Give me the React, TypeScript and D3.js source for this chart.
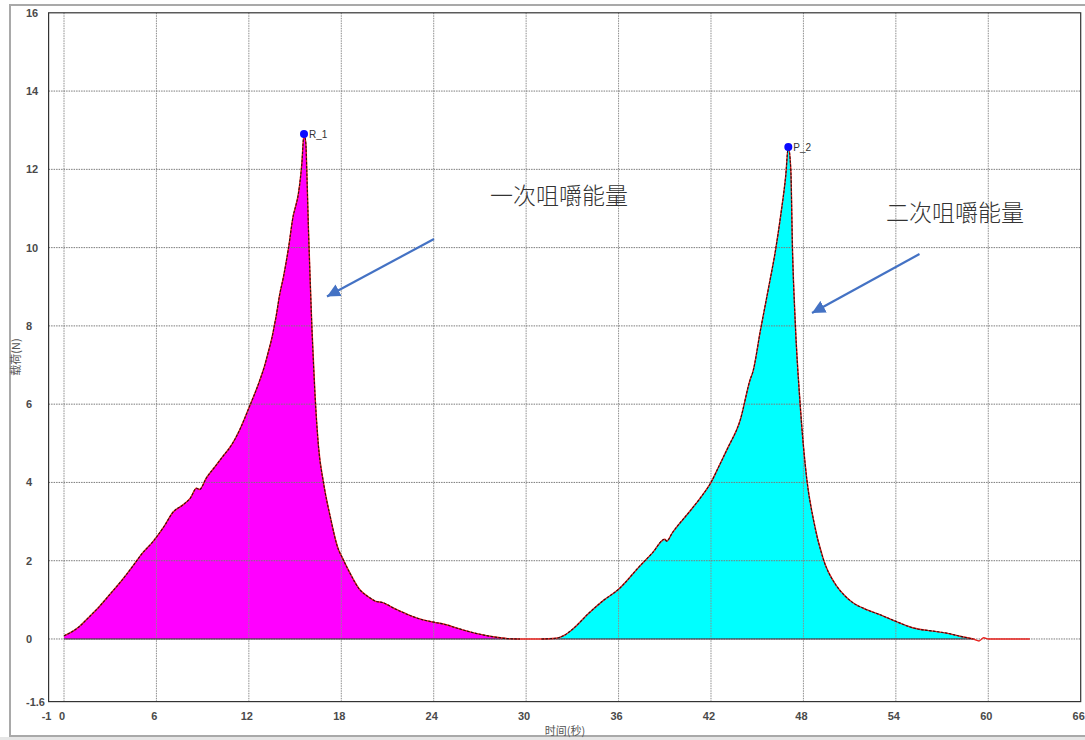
import React from "react";
import * as d3 from "d3";

// Chewing load test: load (N) over time (s), two bites
const bite1Time = [0, 0.5, 1.0, 1.6, 2.3, 3.0, 3.8, 4.5, 5.0, 5.8, 6.5, 7.1, 7.7, 8.2, 8.6, 8.8, 9.25, 9.8, 10.3, 10.9, 11.4, 12.0, 12.7, 13.0, 13.3, 13.5, 13.7, 13.75, 14.0, 14.25, 14.57, 14.9, 15.0, 15.22, 15.44, 15.58, 15.7, 15.76, 15.87, 15.98, 16.09, 16.3, 16.52, 16.85, 17.28, 17.82, 18.0, 18.54, 19.18, 19.82, 20.2, 20.68, 21.54, 22.6, 23.2, 24.0, 24.75, 25.82, 26.89, 27.96, 28.8, 29.6];
const bite1Load = [0.08, 0.18, 0.32, 0.55, 0.83, 1.15, 1.52, 1.88, 2.15, 2.5, 2.88, 3.25, 3.42, 3.6, 3.85, 3.82, 4.12, 4.4, 4.66, 4.97, 5.34, 5.9, 6.6, 6.95, 7.39, 7.7, 8.1, 8.2, 8.8, 9.26, 9.98, 10.85, 11.0, 11.39, 12.15, 12.9, 12.66, 11.98, 10.45, 9.17, 7.98, 6.2, 4.92, 3.98, 3.13, 2.28, 2.13, 1.7, 1.27, 1.06, 0.97, 0.93, 0.76, 0.58, 0.5, 0.43, 0.37, 0.24, 0.13, 0.05, 0.01, 0];

const bite2Time = [29.6, 31.0, 31.93, 32.5, 33.02, 34.1, 35.0, 36.0, 37.37, 38.2, 39.0, 39.12, 39.5, 40.64, 41.3, 42.0, 42.5, 43.05, 43.91, 44.56, 44.7, 45.22, 45.76, 46.2, 46.52, 46.85, 47.02, 47.18, 47.29, 47.46, 47.78, 48.22, 48.65, 49.3, 50.16, 50.7, 51.24, 52.1, 52.97, 54.0, 55.14, 56.43, 57.3, 58.16, 59.03, 59.4, 59.7, 60.0, 62.7];
const bite2Load = [0, 0, 0.02, 0.1, 0.25, 0.67, 0.98, 1.27, 1.86, 2.2, 2.55, 2.5, 2.72, 3.27, 3.6, 4.0, 4.4, 4.85, 5.61, 6.65, 6.8, 7.91, 9.02, 9.96, 10.81, 11.83, 12.57, 12.0, 9.96, 8.17, 6.04, 4.08, 3.05, 2.03, 1.35, 1.1, 0.92, 0.75, 0.62, 0.45, 0.28, 0.2, 0.15, 0.07, 0, -0.05, 0.03, 0, 0];

const peakNames = ["R_1", "P_2"];
const peakTimes = [15.58, 47.02];
const peakLoads = [12.9, 12.57];

const xTicks = [-1, 0, 6, 12, 18, 24, 30, 36, 42, 48, 54, 60, 66];
const yTicks = [-1.6, 0, 2, 4, 6, 8, 10, 12, 14, 16];
const xGrid = [0, 6, 12, 18, 24, 30, 36, 42, 48, 54, 60];
const yGrid = [0, 2, 4, 6, 8, 10, 12, 14];

const annotationTexts = ["一次咀嚼能量", "二次咀嚼能量"];

const W = 1085;
const H = 740;
const plotLeft = 48.6;
const plotRight = 1080.7;
const plotTop = 12.8;
const plotBottom = 701.6;

type Pt = { t: number; v: number };

function zip(ts: number[], vs: number[]): Pt[] {
  return ts.map((t, i) => ({ t, v: vs[i] }));
}

export default function App() {
  const x = d3.scaleLinear().domain([-1, 66]).range([plotLeft, plotRight]);
  const y = d3.scaleLinear().domain([-1.6, 16]).range([plotBottom, plotTop]);

  const s1 = zip(bite1Time, bite1Load);
  const s2 = zip(bite2Time, bite2Load);

  const area = d3
    .area<Pt>()
    .curve(d3.curveMonotoneX)
    .x((d) => x(d.t))
    .y0(y(0))
    .y1((d) => y(Math.max(0, d.v)));
  const line = d3
    .line<Pt>()
    .curve(d3.curveMonotoneX)
    .x((d) => x(d.t))
    .y((d) => y(d.v));

  // filled part of each bite: where load is above zero
  const fill1 = s1;
  const fill2 = s2.filter((d) => d.t >= 31.0 && d.t <= 59.03);

  const series = [
    { data: s1, fill: fill1, color: "#ff00ff" },
    { data: s2, fill: fill2, color: "#00ffff" },
  ];

  const tickFont = "'Liberation Sans', Arial, sans-serif";
  const cjkFont = "'Noto Sans CJK SC', 'Noto Sans', sans-serif";

  // annotation arrows, from tail to head
  const arrows = [
    { x1: 434, y1: 239, x2: 327, y2: 296.5 },
    { x1: 919.5, y1: 254, x2: 812, y2: 313 },
  ];
  const annoPos = [
    { x: 490, y: 194 },
    { x: 886, y: 211 },
  ];

  return (
    <svg
      width={W}
      height={H}
      style={{ position: "absolute", left: 0, top: 0, background: "#fff" }}
    >
      <rect x={0} y={0} width={W} height={H} fill="#ffffff" />
      {/* outer panel frame */}
      <rect x={10} y={5} width={1090} height={731} fill="none" stroke="#a9a9a9" strokeWidth={2} />
      <rect x={0} y={737} width={W} height={3} fill="#e6e6e6" />

      {/* filled load areas */}
      {series.map((s, i) => (
        <path key={"a" + i} d={area(s.fill) || ""} fill={s.color} stroke="none" />
      ))}

      {/* grid */}
      {xGrid.map((g) => (
        <line
          key={"gx" + g}
          x1={x(g)}
          x2={x(g)}
          y1={plotTop}
          y2={plotBottom}
          stroke="#8c8c8c"
          strokeWidth={1}
          strokeDasharray="1.5,1"
        />
      ))}
      {yGrid.map((g) => (
        <line
          key={"gy" + g}
          x1={plotLeft}
          x2={plotRight}
          y1={y(g)}
          y2={y(g)}
          stroke="#7a7a7a"
          strokeWidth={1}
          strokeDasharray="1.5,1"
        />
      ))}

      {/* base line under each filled area */}
      {series.map((s, i) => {
        const f = s.fill;
        return (
          <line
            key={"b" + i}
            x1={x(f[0].t)}
            x2={x(f[f.length - 1].t)}
            y1={y(0)}
            y2={y(0)}
            stroke="#3a2a3a"
            strokeWidth={1.2}
          />
        );
      })}

      {/* load traces: red curve with a dark dashed edge over the filled part */}
      {series.map((s, i) => (
        <g key={"l" + i}>
          <path d={line(s.data) || ""} fill="none" stroke="#e8201c" strokeWidth={1.4} />
          <path
            d={line(s.fill) || ""}
            fill="none"
            stroke="#2a1010"
            strokeWidth={1.1}
            strokeDasharray="2.5,1.5"
          />
        </g>
      ))}

      {/* plot frame */}
      <rect
        x={plotLeft}
        y={plotTop}
        width={plotRight - plotLeft}
        height={plotBottom - plotTop}
        fill="none"
        stroke="#333"
        strokeWidth={1.2}
      />

      {/* peak markers */}
      {peakNames.map((n, i) => (
        <g key={n}>
          <circle cx={x(peakTimes[i])} cy={y(peakLoads[i])} r={4} fill="#0a0aff" />
          <text
            x={x(peakTimes[i]) + 5}
            y={y(peakLoads[i])}
            dominantBaseline="central"
            fontFamily={tickFont}
            fontSize={10}
            fill="#333"
          >
            {n}
          </text>
        </g>
      ))}

      {/* y tick labels */}
      {yTicks.map((v) => (
        <text
          key={"yt" + v}
          x={26}
          y={y(v)}
          dominantBaseline="central"
          fontFamily={tickFont}
          fontSize={11}
          fontWeight="bold"
          fill="#4a4a4a"
        >
          {String(v)}
        </text>
      ))}
      {/* x tick labels */}
      {xTicks.map((v) => (
        <text
          key={"xt" + v}
          x={x(v) - 2}
          y={720}
          textAnchor="middle"
          fontFamily={tickFont}
          fontSize={11}
          fontWeight="bold"
          fill="#4a4a4a"
        >
          {String(v)}
        </text>
      ))}

      {/* axis titles */}
      <text
        x={565}
        y={730}
        textAnchor="middle"
        dominantBaseline="central"
        fontFamily={cjkFont}
        fontSize={11}
        fill="#555"
      >
        时间(秒)
      </text>
      <text
        transform="translate(15,357) rotate(-90)"
        textAnchor="middle"
        dominantBaseline="central"
        fontFamily={cjkFont}
        fontSize={11}
        fill="#555"
      >
        载荷(N)
      </text>

      {/* annotations */}
      <defs>
        <marker
          id="arrowHead"
          viewBox="0 0 10 10"
          refX={10}
          refY={5}
          markerWidth={6}
          markerHeight={6}
          orient="auto"
          markerUnits="strokeWidth"
        >
          <path d="M0,0 L10,5 L0,10 Z" fill="#4472c4" />
        </marker>
      </defs>
      {arrows.map((a, i) => (
        <line
          key={"ar" + i}
          x1={a.x1}
          y1={a.y1}
          x2={a.x2}
          y2={a.y2}
          stroke="#4472c4"
          strokeWidth={2.2}
          markerEnd="url(#arrowHead)"
        />
      ))}
      {annotationTexts.map((t, i) => (
        <text
          key={t}
          x={annoPos[i].x}
          y={annoPos[i].y}
          dominantBaseline="central"
          fontFamily={cjkFont}
          fontSize={23}
          fontWeight={300}
          fill="#333"
        >
          {t}
        </text>
      ))}
    </svg>
  );
}
